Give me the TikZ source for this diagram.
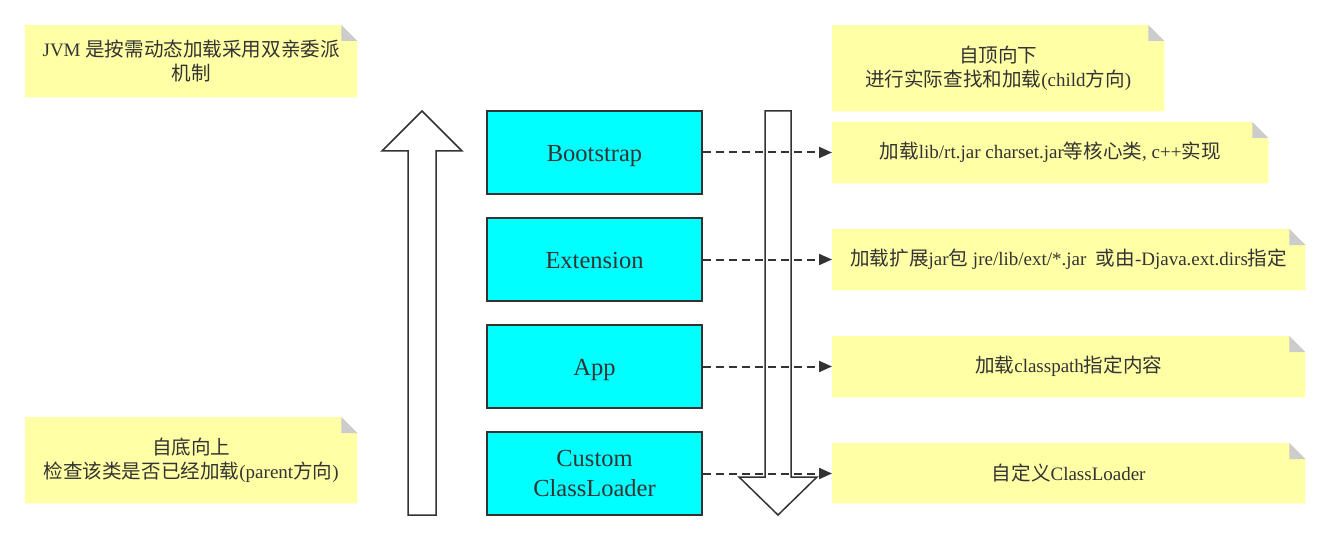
\documentclass[tikz,border=0pt]{standalone}
\usepackage{fontspec}
\setmainfont{Liberation Serif}
\newfontfamily\cjk[Scale=1.03]{Noto Sans CJK SC}
\usetikzlibrary{arrows.meta,backgrounds}
\definecolor{ink}{HTML}{333333}
\definecolor{notey}{HTML}{FFFFA6}
\definecolor{foldg}{HTML}{CCCCCC}
\definecolor{cyanb}{HTML}{00FFFF}
\newcommand\lstrut{\rule[-6pt]{0pt}{30pt}}
\tikzset{
  notebox/.style={rectangle, inner sep=0pt, anchor=north west, text=ink, align=center,
    font=\fontsize{19}{24.5}\selectfont},
  loader/.style={rectangle, draw=ink, line width=2pt, fill=cyanb, text=ink, align=center,
    font=\fontsize{24.5}{30}\selectfont, minimum width=215pt, minimum height=83pt, inner sep=0pt},
  dasharrow/.style={draw=ink, line width=2pt, dash pattern=on 8pt off 5pt,
    -{Triangle[length=13pt,width=11pt]}},
  bigarrow/.style={draw=ink, line width=1.5pt, fill=white, line join=miter}
}
\newcommand\notefill[1]{%
  \begin{scope}[on background layer]
    \fill[notey] (#1.north west) -- ([xshift=-16pt]#1.north east) -- ([yshift=-16pt]#1.north east)
      -- (#1.south east) -- (#1.south west) -- cycle;
    \fill[foldg] ([xshift=-16pt]#1.north east) -- ([xshift=-16pt,yshift=-16pt]#1.north east)
      -- ([yshift=-16pt]#1.north east) -- cycle;
  \end{scope}}
\begin{document}
\begin{tikzpicture}[x=1pt,y=-1pt]
\useasboundingbox (0,0) rectangle (1330,540);

% notes
\node[notebox, minimum width=332pt, minimum height=72pt] (n1) at (25,25)
  {JVM {\cjk 是按需动态加载采用双亲委派}\\{\cjk 机制}};
\notefill{n1}
\node[notebox, minimum width=332pt, minimum height=86pt] (n7) at (25,417)
  {{\cjk 自底向上}\\{\cjk 检查该类是否已经加载}(parent{\cjk 方向})};
\notefill{n7}
\node[notebox, minimum width=332pt, minimum height=86pt] (n2) at (832,25)
  {{\cjk 自顶向下}\\{\cjk 进行实际查找和加载}(child{\cjk 方向})};
\notefill{n2}
\node[notebox, minimum width=436pt, minimum height=61pt] (n3) at (832,122)
  {{\cjk 加载}lib/rt.jar charset.jar{\cjk 等核心类}, c++{\cjk 实现}};
\notefill{n3}
\node[notebox, minimum width=473pt, minimum height=61pt] (n4) at (832,229)
  {{\cjk 加载扩展}jar{\cjk 包} jre/lib/ext/*.jar\ \ {\cjk 或由}-Djava.ext.dirs{\cjk 指定}};
\notefill{n4}
\node[notebox, minimum width=473pt, minimum height=61pt] (n5) at (832,336)
  {{\cjk 加载}classpath{\cjk 指定内容}};
\notefill{n5}
\node[notebox, minimum width=473pt, minimum height=60pt] (n6) at (832,443)
  {{\cjk 自定义}ClassLoader};
\notefill{n6}

% up arrow
\draw[bigarrow] (408,515) -- (408,151) -- (382,151) -- (422,111) -- (462,151)
  -- (436,151) -- (436,515) -- cycle;

% loaders
\node[loader] (b1) at (594.5,152.5) {\lstrut Bootstrap};
\node[loader] (b2) at (594.5,259.5) {\lstrut Extension};
\node[loader] (b3) at (594.5,366.5) {\lstrut App};
\node[loader] (b4) at (594.5,473.5) {Custom\\ClassLoader};

% down arrow
\draw[bigarrow] (765,111) -- (791,111) -- (791,477) -- (817,477) -- (778,515)
  -- (739,477) -- (765,477) -- cycle;

% dashed connectors
\draw[dasharrow] (b1.east) -- (b1.east -| n3.west);
\draw[dasharrow] (b2.east) -- (b2.east -| n4.west);
\draw[dasharrow] (b3.east) -- (b3.east -| n5.west);
\draw[dasharrow] (b4.east) -- (b4.east -| n6.west);
\end{tikzpicture}
\end{document}
